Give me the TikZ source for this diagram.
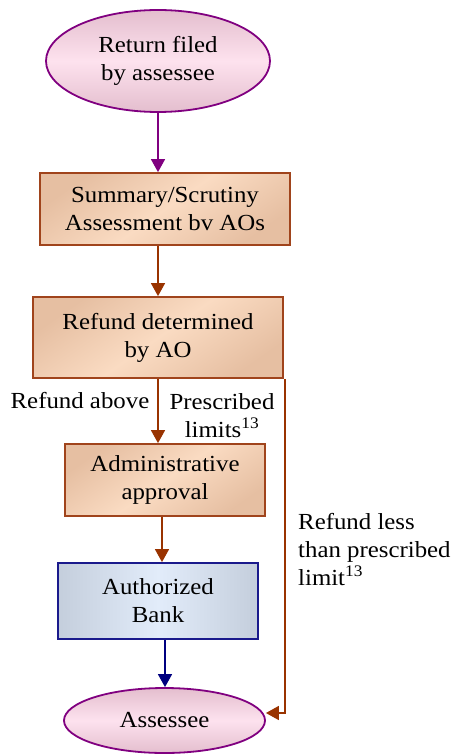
\documentclass[tikz,border=0pt]{standalone}
\usepackage{fontspec}
\setmainfont[FakeStretch=1.08]{Liberation Serif}
\usetikzlibrary{shapes.geometric,arrows.meta}
\definecolor{plum}{HTML}{800080}
\definecolor{pinklight}{HTML}{FDE2EE}
\definecolor{pinkdark}{HTML}{E4BECE}
\definecolor{brownline}{HTML}{A0441C}
\definecolor{brownarrow}{HTML}{993300}
\definecolor{peachlight}{HTML}{FADBC2}
\definecolor{peachdark}{HTML}{E6BFA2}
\definecolor{navyline}{HTML}{1A1A8C}
\definecolor{navyarrow}{HTML}{000080}
\definecolor{bluelight}{HTML}{E2ECFA}
\definecolor{bluedark}{HTML}{C4CEDC}
\begin{document}
\begin{tikzpicture}[x=1pt,y=-1pt,
  txt/.style={font=\fontsize{23}{28}\selectfont, align=center, text=black},
  oval/.style={txt, ellipse, draw=plum, line width=1.8pt, inner sep=0pt,
    top color=pinkdark, bottom color=pinkdark, middle color=pinklight},
  orangebox/.style={txt, rectangle, draw=brownline, line width=1.8pt, inner sep=0pt,
    top color=peachdark, bottom color=peachdark, middle color=peachlight, shading angle=35},
  bluebox/.style={txt, rectangle, draw=navyline, line width=1.8pt, inner sep=0pt,
    left color=bluedark, right color=bluedark, middle color=bluelight},
  conn/.style={line width=1.6pt, -{Triangle[width=14pt,length=13pt]}},
  lbl/.style={txt, inner sep=0pt}]
\useasboundingbox (0,0) rectangle (463,754);

\node[oval, minimum width=224pt, minimum height=102pt] (e1) at (158,61) {Return filed\\by assessee};
\node[orangebox, minimum width=250pt, minimum height=72pt] (b1) at (165,209) {Summary/Scrutiny\\Assessment bv AOs};
\node[orangebox, minimum width=250pt, minimum height=81pt] (b2) at (158,337.5) {Refund determined\\by AO};
\node[orangebox, minimum width=200pt, minimum height=72pt] (b3) at (165,480) {Administrative\\approval};
\node[bluebox, minimum width=200pt, minimum height=76pt] (b4) at (158,601) {Authorized\\Bank};
\node[oval, minimum width=201pt, minimum height=65pt] (e2) at (164.5,720.5) {Assessee};

\node[lbl] (l1) at (80,401) {Refund above};
\node[lbl] (l2) at (222,416) {Prescribed\\limits\textsuperscript{13}};
\node[lbl, anchor=west, align=left] (l3) at (298,550) {Refund less\\than prescribed\\limit\textsuperscript{13}};

\draw[conn, draw=plum] (e1.south) -- (e1.south |- b1.north);
\draw[conn, draw=brownarrow] (b2.north |- b1.south) -- (b2.north);
\draw[conn, draw=brownarrow] (b2.south) -- (b2.south |- b3.north);
\draw[conn, draw=brownarrow] ([xshift=-3pt]b3.south) -- ([xshift=-3pt]b3.south |- b4.north);
\draw[conn, draw=navyarrow] ([xshift=7pt]b4.south) -- ([xshift=7pt]b4.south |- e2.north);
\coordinate (c) at ([xshift=1pt]b2.south east |- 0,713);
\draw[conn, draw=brownarrow] ([xshift=1pt]b2.south east) -- (c) -- (e2.east |- c);
\end{tikzpicture}
\end{document}
